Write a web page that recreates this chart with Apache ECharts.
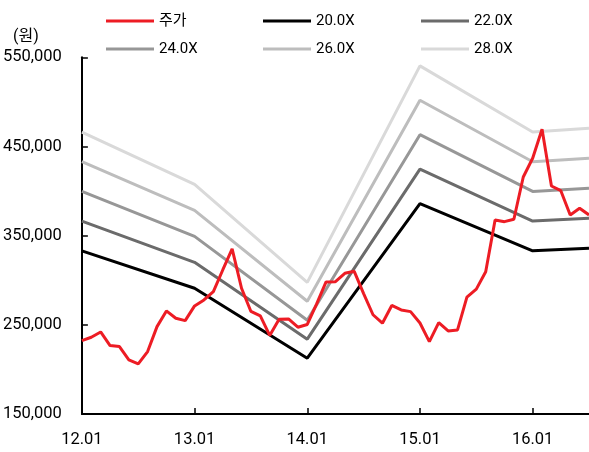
<!DOCTYPE html>
<html><head><meta charset="utf-8">
<script src="https://cdn.jsdelivr.net/npm/echarts@6/dist/echarts.min.js"></script>
<style>html,body{margin:0;padding:0;background:#fff}#c{width:589px;height:452px}</style>
</head><body><div id="c"></div>
<script>
const categories = ['12.01','12.02','12.03','12.04','12.05','12.06','12.07','12.08','12.09','12.10','12.11','12.12',
'13.01','13.02','13.03','13.04','13.05','13.06','13.07','13.08','13.09','13.10','13.11','13.12',
'14.01','14.02','14.03','14.04','14.05','14.06','14.07','14.08','14.09','14.10','14.11','14.12',
'15.01','15.02','15.03','15.04','15.05','15.06','15.07','15.08','15.09','15.10','15.11','15.12',
'16.01','16.02','16.03','16.04','16.05','16.06','16.07'];
const tickLabels = ['12.01','13.01','14.01','15.01','16.01'];
const price = [232300,236100,242000,226700,225600,210700,206200,220000,248000,265600,257400,254700,
271200,277900,287200,311500,335100,291000,265000,260000,238100,256300,256600,247300,
250400,273400,298100,298400,307800,310000,285000,261300,251800,271700,266700,264800,
252100,231200,252500,243200,244300,281000,290000,309600,367600,365700,368400,415800,
436800,469300,405700,400400,373200,380700,373200];
const bandDates = ['12.01','13.01','14.01','15.01','16.01','16.07'];
const per20 = [333000,291000,212600,386000,333000,336000];
const per22 = [366300,320100,233900,424600,366300,369600];
const per24 = [399600,349200,255100,463200,399600,403200];
const per26 = [432900,378300,276400,501800,432900,436800];
const per28 = [466200,407400,297600,540400,466200,470400];
const yTicks = {min:150000, max:550000, step:100000};

const FONT = "Roboto, 'Noto Sans CJK KR', sans-serif";
const chart = echarts.init(document.getElementById('c'));
function band(name, vals, color){
  return {name:name, type:'line', data: bandDates.map((d,i)=>[d, vals[i]]), showSymbol:false, symbol:'none',
    lineStyle:{color:color, width:3}, itemStyle:{color:color}, z:2, animation:false};
}
const isTick = (i, v) => tickLabels.indexOf(v) >= 0;
const legendCommon = {orient:'vertical', top:8, icon:'rect', itemWidth:48, itemHeight:3, itemGap:12,
  textStyle:{fontFamily:FONT, fontSize:15, color:'#000', lineHeight:16, padding:[0,0,0,0]}, selectedMode:false};
chart.setOption({
  animation:false,
  textStyle:{fontFamily:FONT},
  title:{text:'(원)', left:8, top:24, textStyle:{fontFamily:FONT, fontSize:16, fontWeight:'normal', color:'#000'}},
  legend:[
    Object.assign({}, legendCommon, {left:101, data:['주가','24.0X']}),
    Object.assign({}, legendCommon, {left:258, data:['20.0X','26.0X']}),
    Object.assign({}, legendCommon, {left:416, data:['22.0X','28.0X']})
  ],
  grid:{left:81.5, right:0, top:57.3, bottom:38, containLabel:false},
  xAxis:{type:'category', data:categories, boundaryGap:false,
    axisLine:{lineStyle:{color:'#000', width:2}},
    axisTick:{inside:true, length:6, interval:isTick, lineStyle:{color:'#000', width:1.5}},
    axisLabel:{interval:isTick, fontFamily:FONT, fontSize:16.5, color:'#000', margin:18, hideOverlap:false}},
  yAxis:{type:'value', min:yTicks.min, max:yTicks.max, interval:yTicks.step,
    axisLine:{show:true, lineStyle:{color:'#000', width:2}},
    axisTick:{show:true, inside:true, length:6, lineStyle:{color:'#000', width:1.5}},
    splitLine:{show:false},
    axisLabel:{fontFamily:FONT, fontSize:16.5, color:'#000', margin:20,
      formatter:v=>v.toLocaleString('en-US')}},
  series:[
    band('20.0X', per20, '#000000'),
    band('22.0X', per22, '#6b6b6b'),
    band('24.0X', per24, '#979797'),
    band('26.0X', per26, '#bdbdbd'),
    band('28.0X', per28, '#d9d9d9'),
    {name:'주가', type:'line', data:price, showSymbol:false, symbol:'none',
      lineStyle:{color:'#ed1c24', width:3}, itemStyle:{color:'#ed1c24'}, z:5}
  ]
});
</script></body></html>
